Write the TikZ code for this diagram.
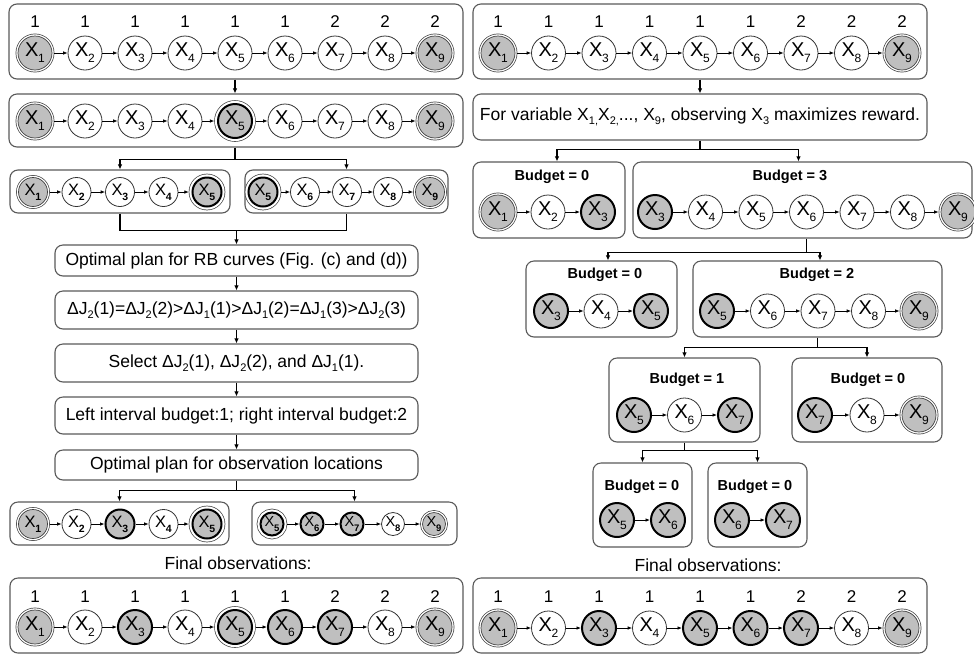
\documentclass[tikz,border=0pt]{standalone}
\usepackage{fontspec}
\setmainfont{Liberation Sans}
\usetikzlibrary{arrows.meta,calc}

% subscripted variable name; size and weight of the index come from the node font
\def\subsz{12}\def\subfmt{}
\newcommand\xv[1]{X\kern-0.3pt\raisebox{-0.3em}{\fontsize{\subsz}{\subsz}\selectfont\subfmt #1}}
\newcommand\sub[1]{\raisebox{-0.25em}{\fontsize{11}{11}\selectfont #1}}

\tikzset{
  vbig/.style={circle, inner sep=0pt, minimum size=34pt,
    font=\fontsize{20}{20}\selectfont\def\subsz{12}\def\subfmt{}},
  vsmall/.style={circle, inner sep=0pt, minimum size=29pt,
    font=\fontsize{16.5}{17}\selectfont\def\subsz{10.5}\def\subfmt{\bfseries}},
  vtiny/.style={circle, inner sep=0pt, minimum size=23pt,
    font=\fontsize{14.5}{15}\selectfont\def\subsz{9.5}\def\subfmt{\bfseries}},
  plain/.style={draw=black!80, line width=0.8pt, fill=white},
  endn/.style={fill=gray!50, draw=gray!50!black, line width=0.7pt, outer sep=2.4pt,
    preaction={draw=gray!50!black, line width=4.8pt},
    preaction={draw=white, line width=3.4pt}},
  obs/.style={fill=gray!50, draw=black, line width=2pt},
  obsend/.style={fill=gray!50, draw=black, line width=2pt, outer sep=3.7pt,
    preaction={draw=gray!50!black, line width=7.6pt},
    preaction={draw=white, line width=6.2pt}},
  link/.style={line width=0.8pt, -{Latex[length=4.5pt,width=3.6pt]}},
  wire/.style={line width=1.3pt},
  conn/.style={line width=1.3pt, -{Latex[length=5pt,width=4.5pt]}},
  box/.style={draw=black!65, line width=1.1pt, rounded corners=8pt, inner sep=0pt,
    font=\fontsize{17.5}{20}\selectfont},
  lbl/.style={font=\fontsize{17}{17}\selectfont, inner sep=0pt},
  budget/.style={font=\bfseries\fontsize{14.5}{16}\selectfont, inner sep=0pt},
  caption/.style={font=\fontsize{17.5}{20}\selectfont, inner sep=0pt},
}

% rounded frame given by its corners: name, x1, y1, x2, y2, text
\newcommand\frameat[6]{%
  \node[box, minimum width={#4pt-#2pt}, minimum height={#5pt-#3pt}]
    (#1) at ({(#2+#4)/2},{(#3+#5)/2}) {#6};}

% chain of variables: prefix, y, size style, list of x/index/kind
\newcommand\vchain[4]{%
  \foreach \px/\ix/\kd [count=\c] in {#4}{%
    \node[#3,\kd] (#1n\c) at (\px,#2) {\xv{\ix}};
    \ifnum\c>1
      \pgfmathtruncatemacro\pc{\c-1}
      \draw[link] (#1n\pc) -- (#1n\c);
    \fi
  }}

% row of interval labels: prefix, y, list of x/value
\newcommand\lblrow[3]{%
  \foreach \px/\v [count=\c] in {#3}{\node[lbl] (#1l\c) at (\px,#2) {\v};}}

\begin{document}
\begin{tikzpicture}[x=1pt, y=-1pt]
\useasboundingbox (0,0) rectangle (974,657);

% ---------------- left column ----------------
\frameat{L1}{9}{4}{463}{79}{}
\lblrow{L1}{22}{35/1,85/1,135/1,185/1,235/1,285/1,335/2,385/2,435/2}
\vchain{L1}{53}{vbig}{35/1/endn,85/2/plain,135/3/plain,185/4/plain,235/5/plain,285/6/plain,335/7/plain,385/8/plain,435/9/endn}

\frameat{L2}{9}{94}{463}{147}{}
\vchain{L2}{121}{vbig}{35/1/endn,85/2/plain,135/3/plain,185/4/plain,235/5/obsend,285/6/plain,335/7/plain,385/8/plain,435/9/endn}

\frameat{L3a}{10}{170}{230}{213}{}
\vchain{L3a}{192}{vsmall}{33/1/endn,76.5/2/plain,120/3/plain,163.5/4/plain,207/5/obsend}
\frameat{L3b}{245}{170}{448}{213}{}
\vchain{L3b}{192}{vsmall}{263/5/obsend,305/6/plain,347/7/plain,388/8/plain,430/9/endn}

\frameat{L4}{55}{245}{418}{276}{Optimal plan for RB curves (Fig. (c) and (d))}
\frameat{L5}{55}{291}{418}{329}{ΔJ\sub{2}(1)=ΔJ\sub{2}(2)>ΔJ\sub{1}(1)>ΔJ\sub{1}(2)=ΔJ\sub{1}(3)>ΔJ\sub{2}(3)}
\frameat{L6}{55}{344}{418}{382}{Select ΔJ\sub{2}(1), ΔJ\sub{2}(2), and ΔJ\sub{1}(1).}
\frameat{L7}{55}{397}{418}{434}{Left interval budget:1; right interval budget:2}
\frameat{L8}{55}{450}{418}{480}{Optimal plan for observation locations}

\frameat{L9a}{10}{502}{229}{545}{}
\vchain{L9a}{524}{vsmall}{33/1/endn,76.5/2/plain,120/3/obs,163.5/4/plain,207/5/obsend}
\frameat{L9b}{252}{502}{457}{545}{}
\vchain{L9b}{524}{vtiny}{272/5/obsend,312/6/obs,352/7/obs,393/8/plain,434/9/endn}

\node[caption] (Lcap) at (238,563) {Final observations:};

\frameat{L10}{10}{578}{463}{653}{}
\lblrow{L10}{597}{35/1,85/1,135/1,185/1,235/1,285/1,335/2,385/2,435/2}
\vchain{L10}{627}{vbig}{35/1/endn,85/2/plain,135/3/obs,185/4/plain,235/5/obsend,285/6/obs,335/7/obs,385/8/plain,435/9/endn}

% connectors, left column
\draw[conn] (L1n5 |- L1.south) -- (L1n5 |- L2.north);
\coordinate (jA) at ($(L2n5 |- L2.south)+(0,12)$);
\draw[wire] (L2n5 |- L2.south) -- (jA);
\draw[conn] (jA) -| (L3a.north);
\draw[conn] (jA) -| (L3b.north);
\coordinate (jB) at ($(L3a.south)+(0,17)$);
\draw[wire] (L3a.south) -- (jB) -| (L3b.south);
\draw[conn] (L4.north |- jB) -- (L4.north);
\draw[conn] (L4) -- (L5);
\draw[conn] (L5) -- (L6);
\draw[conn] (L6) -- (L7);
\draw[conn] (L7) -- (L8);
\coordinate (jC) at ($(L8.south)+(0,10)$);
\draw[wire] (L8.south) -- (jC);
\draw[conn] (jC) -| (L9a.north);
\draw[conn] (jC) -| (L9b.north);

% ---------------- right column ----------------
\frameat{R1}{473}{4}{927}{79}{}
\lblrow{R1}{22}{498/1,548.5/1,599/1,649.5/1,700/1,750.5/1,801/2,851.5/2,902/2}
\vchain{R1}{53}{vbig}{498/1/endn,548.5/2/plain,599/3/plain,649.5/4/plain,700/5/plain,750.5/6/plain,801/7/plain,851.5/8/plain,902/9/endn}

\frameat{R2}{473}{94}{927}{140}{For variable X\sub{1,}X\sub{2,}..., X\sub{9}, observing X\sub{3} maximizes reward.}

\frameat{R3a}{473}{162}{625}{238}{}
\node[budget] (R3at) at (552,177) {Budget = 0};
\vchain{R3a}{212}{vbig}{498/1/endn,548/2/plain,598/3/obs}
\frameat{R3b}{633}{162}{972}{238}{}
\node[budget] (R3bt) at (790,177) {Budget = 3};
\vchain{R3b}{212}{vbig}{655/3/obs,705.5/4/plain,756/5/plain,806.5/6/plain,857/7/plain,907.5/8/plain,958/9/endn}

\frameat{R4a}{526}{261}{677}{337}{}
\node[budget] (R4at) at (605,275) {Budget = 0};
\vchain{R4a}{311}{vbig}{551/3/obs,601/4/plain,651/5/obs}
\frameat{R4b}{693}{261}{942}{337}{}
\node[budget] (R4bt) at (817,275) {Budget = 2};
\vchain{R4b}{311}{vbig}{717/5/obs,767.5/6/plain,818/7/plain,868.5/8/plain,919/9/endn}

\frameat{R5a}{609}{358}{760}{442}{}
\node[budget] (R5at) at (687,380) {Budget = 1};
\vchain{R5a}{415}{vbig}{634/5/obs,684.5/6/plain,735/7/obs}
\frameat{R5b}{792}{358}{942}{442}{}
\node[budget] (R5bt) at (868,380) {Budget = 0};
\vchain{R5b}{415}{vbig}{815/7/obs,867/8/plain,919/9/endn}

\frameat{R6a}{593}{463}{692}{547}{}
\node[budget] (R6at) at (642,487) {Budget = 0};
\vchain{R6a}{520}{vbig}{617/5/obs,668/6/obs}
\frameat{R6b}{708}{463}{807}{547}{}
\node[budget] (R6bt) at (755,487) {Budget = 0};
\vchain{R6b}{520}{vbig}{732/6/obs,783/7/obs}

\node[caption] (Rcap) at (708,565) {Final observations:};

\frameat{R7}{473}{578}{927}{653}{}
\lblrow{R7}{597}{498/1,548.5/1,599/1,649.5/1,700/1,750.5/1,801/2,851.5/2,902/2}
\vchain{R7}{628}{vbig}{498/1/endn,548.5/2/plain,599/3/obs,649.5/4/plain,700/5/obs,750.5/6/obs,801/7/obs,851.5/8/plain,902/9/endn}

% connectors, right column
\draw[conn] (R1n5 |- R1.south) -- (R1n5 |- R2.north);
\coordinate (jD) at ($(R2.south)+(0,9)$);
\draw[wire] (R2.south) -- (jD);
\draw[conn] (jD) -| ($(R3a.north)+(8,0)$);
\draw[conn] (jD) -| ($(R3b.north)+(-4,0)$);
\coordinate (jE) at ($(R3bn4 |- R3b.south)+(0,14)$);
\draw[wire] (R3bn4 |- R3b.south) -- (jE);
\draw[conn] (jE) -| ($(R4a.north)+(6.5,0)$);
\draw[conn] (jE) -| ($(R4b.north)+(2.5,0)$);
\coordinate (jF) at ($(R4b.south)+(0,10)$);
\draw[wire] (R4b.south) -- (jF);
\draw[conn] (jF) -| (R5a.north);
\draw[conn] (jF) -| (R5b.north);
\coordinate (jG) at ($(R5a.south)+(0,8)$);
\draw[wire] (R5a.south) -- (jG);
\draw[conn] (jG) -| (R6a.north);
\draw[conn] (jG) -| (R6b.north);
\end{tikzpicture}
\end{document}
